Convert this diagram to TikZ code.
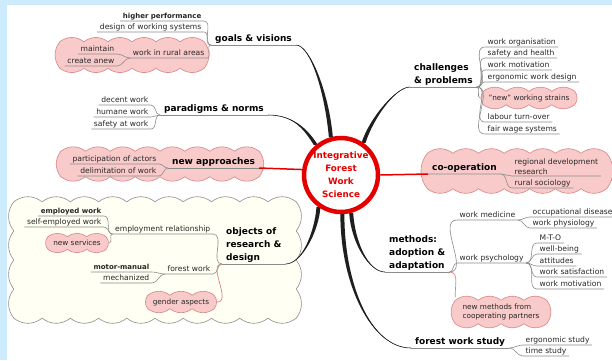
\documentclass[tikz,border=0pt]{standalone}
\usepackage{fontspec}
\setmainfont{DejaVu Sans}
\usetikzlibrary{calc,backgrounds}

\definecolor{bandblue}{HTML}{CCEBFC}
\definecolor{puffpink}{HTML}{F9CACA}
\definecolor{puffedge}{HTML}{D98585}
\definecolor{hubred}{HTML}{E50000}
\definecolor{twiggrey}{HTML}{8C8C8C}
\definecolor{creamfill}{HTML}{FFFFF4}

\tikzset{
  leaf/.style={font=\fontsize{7.6}{9}\selectfont, text=black!85, inner xsep=2.5pt,
    inner ysep=1pt, text height=5.4pt, text depth=1.5pt},
  leafb/.style={leaf, font=\fontsize{7}{9}\selectfont\bfseries},
  leafml/.style={font=\fontsize{7.6}{10}\selectfont, text=black!85, inner xsep=2.5pt,
    inner ysep=1pt, align=left},
  topic/.style={font=\fontsize{9}{13}\selectfont\bfseries, inner xsep=4pt,
    inner ysep=1.5pt, align=left},
  twig/.style={draw=twiggrey, line width=0.6pt},
  redtwig/.style={draw=puffedge, line width=0.7pt},
  redlimb/.style={draw=hubred, line width=1.5pt},
  limb/.style={black!88},
  puffbox/.style={inner sep=0pt, align=left, font=\fontsize{7.3}{9.5}\selectfont,
    text=black!85},
  pinkpuff/.style={draw=puffedge, fill=puffpink, line width=0.6pt},
  creampuff/.style={draw=twiggrey, fill=creamfill, line width=0.6pt},
  hub/.style={circle, draw=hubred, line width=4.5pt, fill=white, minimum size=74pt,
    inner sep=0pt, text=hubred, align=center, font=\fontsize{8.8}{13}\selectfont\bfseries}
}

% tapered main branch: start, control 1, control 2, end at the hub
\newcommand{\limb}[4]{%
  \fill[limb] (#1) .. controls +#2 and +#3 .. ([xshift=-2pt]#4)
    -- ([xshift=2pt]#4) .. controls +#3 and +#2 .. (#1) -- cycle;
  \draw[limb, line width=0.6pt] (#1) .. controls +#2 and +#3 .. (#4);}

% bumpy outline round a node: style, node, bumps along, bumps across
\newcommand{\puffs}[4]{%
  \draw[#1] (#2.north west)
    \foreach \i in {1,...,#3} {to[bend left=38] ($(#2.north west)!\i/#3!(#2.north east)$)}
    \foreach \i in {1,...,#4} {to[bend left=38] ($(#2.north east)!\i/#4!(#2.south east)$)}
    \foreach \i in {1,...,#3} {to[bend left=38] ($(#2.south east)!\i/#3!(#2.south west)$)}
    \foreach \i in {1,...,#4} {to[bend left=38] ($(#2.south west)!\i/#4!(#2.north west)$)}
    -- cycle;}

\begin{document}
\begin{tikzpicture}[x=1pt, y=-1pt]
  \useasboundingbox (0,0) rectangle (612,360);
  \begin{pgfonlayer}{background}
    \fill[bandblue] (0,0) rectangle (612,360);
    \fill[white] (7,5) rectangle (612,360);
    % clouds
    \node[puffbox, minimum width=282pt, minimum height=116pt] (objpuff) at (155,260) {};
    \puffs{creampuff}{objpuff}{10}{4}
    \node[puffbox, minimum width=144pt, minimum height=26pt] (ruralpuff) at (132,55) {};
    \puffs{pinkpuff}{ruralpuff}{6}{1}
    \node[puffbox, minimum width=198pt, minimum height=25pt] (newapppuff) at (160,164) {};
    \puffs{pinkpuff}{newapppuff}{8}{1}
    \node[puffbox, minimum width=179pt, minimum height=35pt] (cooppuff) at (517,171) {};
    \puffs{pinkpuff}{cooppuff}{7}{1}
    \node[puffbox, minimum width=58pt, minimum height=12pt] (newserv) at (77,243) {};
    \puffs{pinkpuff}{newserv}{3}{1}
    \node[puffbox, minimum width=66pt, minimum height=13pt] (gender) at (181,302) {};
    \puffs{pinkpuff}{gender}{3}{1}
    \node[puffbox, minimum width=91pt, minimum height=13pt] (strains) at (529,98) {};
    \puffs{pinkpuff}{strains}{4}{1}
    \node[puffbox, minimum width=91pt, minimum height=23pt] (newmeth) at (501,312) {};
    \puffs{pinkpuff}{newmeth}{4}{1}
  \end{pgfonlayer}
  \node[puffbox] at (newserv) {new services};
  \node[puffbox] at (gender) {gender aspects};
  \node[puffbox] at (strains) {"new" working strains};
  \node[puffbox] at (newmeth) {new methods from\\cooperating partners};

  % centre
  \node[hub] (hub) at (341,175) {Integrative\\Forest\\Work\\Science};

  % goals & visions
  \node[topic, anchor=south west] (goals) at (211,45) {goals \& visions};
  \node[leafb, anchor=south east] (hiperf) at (204,21) {higher performance};
  \node[leaf, anchor=south east] (wsys) at (204,32) {design of working systems};
  \node[leaf, anchor=south east] (rural) at (207,58) {work in rural areas};
  \node[leaf, anchor=south east] (maint) at (117,54) {maintain};
  \node[leaf, anchor=south east] (anew) at (117,66) {create anew};

  % paradigms & norms
  \node[topic, anchor=south west] (paradigms) at (160,115) {paradigms \& norms};
  \node[leaf, anchor=south east] (decent) at (151,105) {decent work};
  \node[leaf, anchor=south east] (humane) at (151,117) {humane work};
  \node[leaf, anchor=south east] (safew) at (151,129) {safety at work};

  % new approaches
  \node[topic, anchor=south west] (newapp) at (168,168) {new approaches};
  \node[leaf, anchor=south east] (actors) at (159,164) {participation of actors};
  \node[leaf, anchor=south east] (delim) at (159,176) {delimitation of work};

  % objects of research & design
  \node[topic, anchor=south west] (objects) at (222,264) {objects of\\research \&\\design};
  \node[leaf, anchor=south east] (employ) at (213,234) {employment relationship};
  \node[leafb, anchor=south east] (employed) at (104,216) {employed work};
  \node[leaf, anchor=south east] (selfemp) at (104,227) {self-employed work};
  \node[leaf, anchor=south east] (forestw) at (213,274) {forest work};
  \node[leafb, anchor=south east] (motor) at (152,272) {motor-manual};
  \node[leaf, anchor=south east] (mech) at (152,283) {mechanized};

  % challenges & problems
  \node[topic, anchor=south west] (challenges) at (410,87) {challenges\\\& problems};
  \node[leaf, anchor=south west] (worg) at (485,47) {work organisation};
  \node[leaf, anchor=south west] (safeh) at (485,58) {safety and health};
  \node[leaf, anchor=south west] (wmot) at (485,70) {work motivation};
  \node[leaf, anchor=south west] (ergo) at (485,82) {ergonomic work design};
  \node[leaf, anchor=south west] (labour) at (485,122) {labour turn-over};
  \node[leaf, anchor=south west] (fair) at (485,134) {fair wage systems};

  % co-operation
  \node[topic, anchor=south west] (coopt) at (428,174) {co-operation};
  \node[leafml, anchor=south west] (regional) at (512,176) {regional development\\research};
  \node[leaf, anchor=south west] (rsoc) at (512,188) {rural sociology};

  % methods: adoption & adaptation
  \node[topic, anchor=south west] (methods) at (385,272) {methods:\\adoption \&\\adaptation};
  \node[leaf, anchor=south west] (wmed) at (457,220) {work medicine};
  \node[leaf, anchor=south west] (occup) at (530,217) {occupational disease};
  \node[leaf, anchor=south west] (wphys) at (530,228) {work physiology};
  \node[leaf, anchor=south west] (wpsy) at (457,263) {work psychology};
  \node[leaf, anchor=south west] (mto) at (537,243) {M-T-O};
  \node[leaf, anchor=south west] (wellb) at (537,254) {well-being};
  \node[leaf, anchor=south west] (attit) at (537,266) {attitudes};
  \node[leaf, anchor=south west] (wsat) at (537,277) {work satisfaction};
  \node[leaf, anchor=south west] (wmotiv) at (537,289) {work motivation};

  % forest work study
  \node[topic, anchor=south west] (fws) at (411,348) {forest work study};
  \node[leaf, anchor=south west] (ergst) at (523,345) {ergonomic study};
  \node[leaf, anchor=south west] (timest) at (523,356) {time study};

  \begin{pgfonlayer}{background}
    % main branches
    \limb{goals.south east}{(14,0)}{(-4,-45)}{hub.105}
    \limb{paradigms.south east}{(25,0)}{(-10,-16)}{hub.130}
    \limb{challenges.south west}{(-14,0)}{(8,-25)}{hub.55}
    \limb{objects.south east}{(16,0)}{(-2,25)}{hub.235}
    \limb{methods.south west}{(-16,0)}{(2,30)}{hub.285}
    \limb{fws.south west}{(-40,0)}{(0,70)}{hub.272}
    \draw[redlimb] (newapp.south east) -- (hub.172);
    \draw[redlimb] (hub.east) -- (coopt.south west);

    % goals & visions
    \draw[twig] (goals.south west) -- (goals.south east);
    \draw[twig] (hiperf.south west) -- (hiperf.south east) to[out=0,in=180] (goals.south west);
    \draw[twig] (wsys.south west) -- (wsys.south east) to[out=0,in=180] (goals.south west);
    \draw[twig] (rural.south west) -- (rural.south east) to[out=0,in=180] (goals.south west);
    \draw[twig] (maint.south west) -- (maint.south east) to[out=0,in=180] (rural.south west);
    \draw[twig] (anew.south west) -- (anew.south east) to[out=0,in=180] (rural.south west);

    % paradigms & norms
    \draw[twig] (paradigms.south west) -- (paradigms.south east);
    \foreach \n in {decent,humane,safew}
      \draw[twig] (\n.south west) -- (\n.south east) to[out=0,in=180] (paradigms.south west);

    % new approaches
    \draw[twig] (newapp.south west) -- (newapp.south east);
    \draw[twig] (actors.south west) -- (actors.south east) to[out=0,in=180] (newapp.south west);
    \draw[twig] (delim.south west) -- (delim.south east) to[out=0,in=180] (newapp.south west);

    % objects of research & design
    \draw[twig] (objects.south west) -- (objects.south east);
    \draw[twig] (employ.south west) -- (employ.south east) to[out=0,in=180] (objects.south west);
    \draw[twig] (employed.south west) -- (employed.south east) to[out=0,in=180] (employ.south west);
    \draw[twig] (selfemp.south west) -- (selfemp.south east) to[out=0,in=180] (employ.south west);
    \draw[twig] ([xshift=3pt]newserv.east) to[out=0,in=180] (employ.south west);
    \draw[twig] (forestw.south west) -- (forestw.south east) to[out=0,in=180] (objects.south west);
    \draw[twig] (motor.south west) -- (motor.south east) to[out=0,in=180] (forestw.south west);
    \draw[twig] (mech.south west) -- (mech.south east) to[out=0,in=180] (forestw.south west);
    \draw[redtwig] ([xshift=3pt]gender.east) to[out=0,in=180] (objects.south west);

    % challenges & problems
    \draw[twig] (challenges.south west) -- (challenges.south east);
    \foreach \n in {worg,safeh,wmot,ergo,labour,fair}
      \draw[twig] (challenges.south east) to[out=0,in=180] (\n.south west) -- (\n.south east);
    \draw[twig] (challenges.south east) to[out=0,in=180] ([xshift=-3pt]strains.west);

    % co-operation
    \draw[twig] (coopt.south west) -- (coopt.south east) -- (regional.south west) -- (regional.south east);
    \draw[twig] (coopt.south east) to[out=0,in=180] (rsoc.south west) -- (rsoc.south east);

    % methods: adoption & adaptation
    \draw[twig] (methods.south west) -- (methods.south east);
    \draw[twig] (methods.south east) to[out=0,in=180] (wmed.south west) -- (wmed.south east);
    \draw[twig] (methods.south east) to[out=0,in=180] (wpsy.south west) -- (wpsy.south east);
    \foreach \n in {occup,wphys}
      \draw[twig] (wmed.south east) to[out=0,in=180] (\n.south west) -- (\n.south east);
    \foreach \n in {mto,wellb,attit,wsat,wmotiv}
      \draw[twig] (wpsy.south east) to[out=0,in=180] (\n.south west) -- (\n.south east);
    \draw[redtwig] (methods.south east) to[out=0,in=95] ([yshift=3pt]newmeth.north west);

    % forest work study
    \draw[twig] (fws.south west) -- (fws.south east);
    \draw[twig] (fws.south east) to[out=0,in=180] (ergst.south west) -- (ergst.south east);
    \draw[twig] (fws.south east) to[out=0,in=180] (timest.south west) -- (timest.south east);
  \end{pgfonlayer}
\end{tikzpicture}
\end{document}
